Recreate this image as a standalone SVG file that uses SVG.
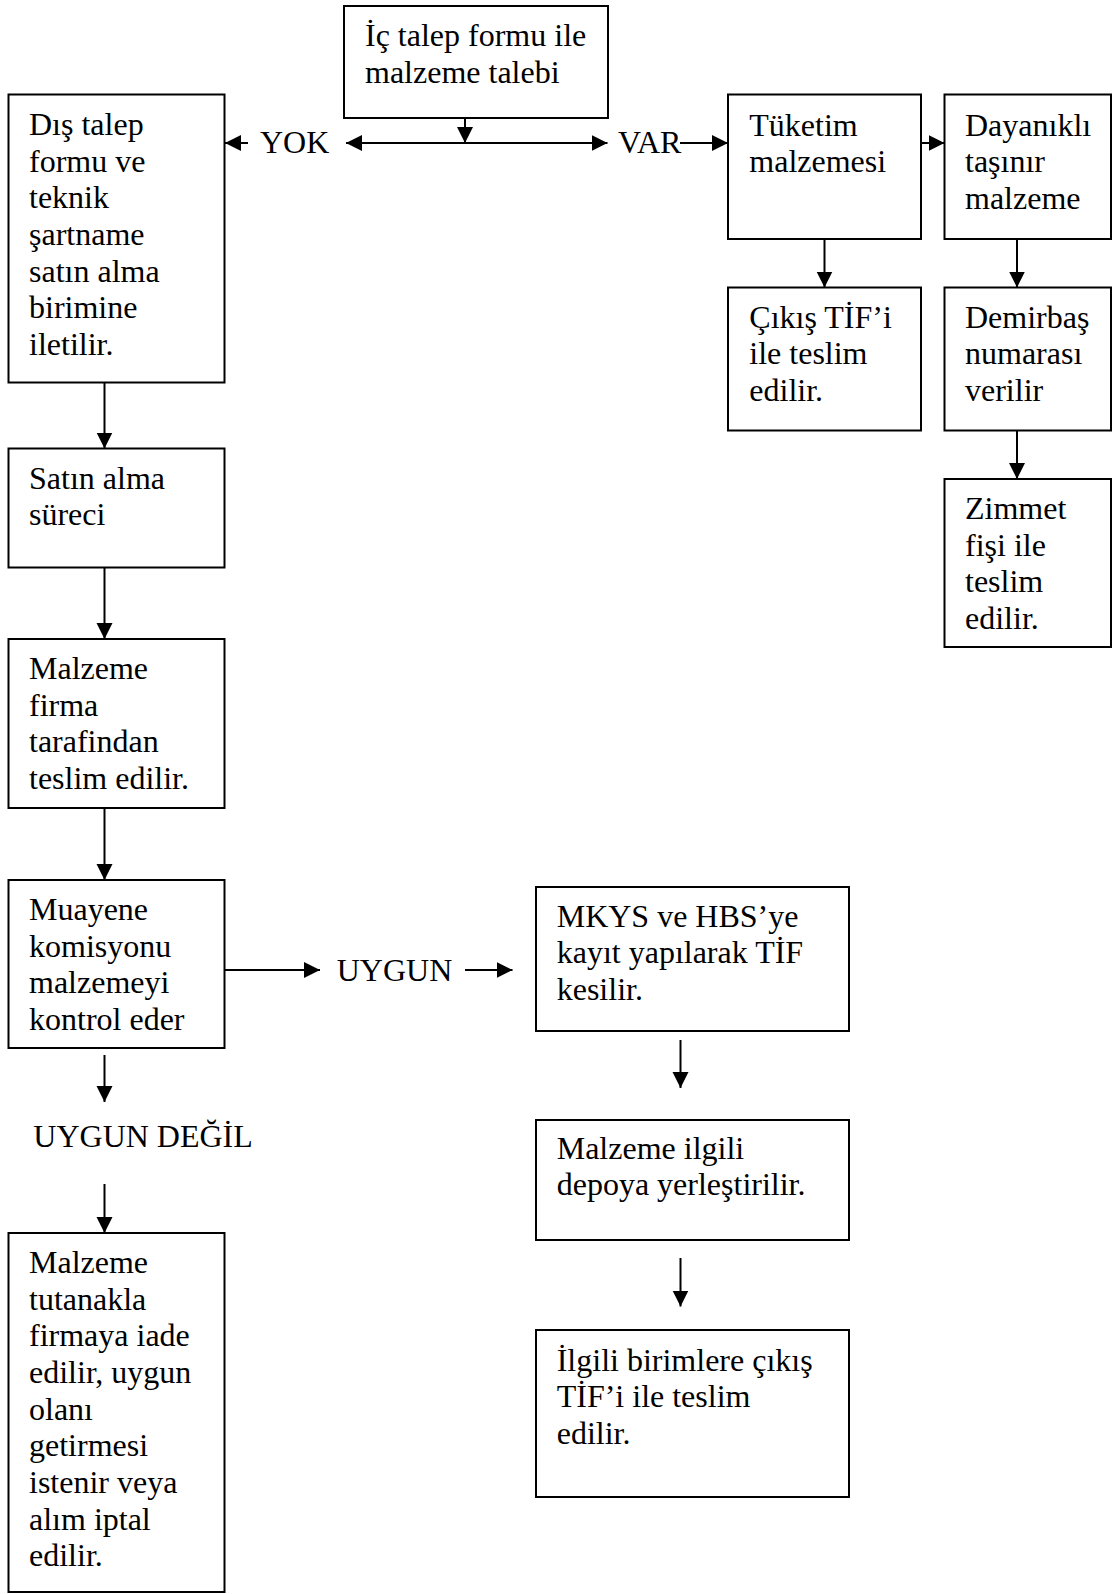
<svg xmlns="http://www.w3.org/2000/svg" width="1113" height="1594" viewBox="0 0 1113 1594">
<defs>
<marker id="ah" markerUnits="userSpaceOnUse" markerWidth="18" markerHeight="17" refX="16" refY="8" orient="auto">
<path d="M0,0 L16,8 L0,16 z" fill="#000"/>
</marker>
<marker id="ahs" markerUnits="userSpaceOnUse" markerWidth="18" markerHeight="17" refX="0" refY="8" orient="auto">
<path d="M16,0 L0,8 L16,16 z" fill="#000"/>
</marker>
<style>
.box{fill:#fff;stroke:#000;stroke-width:2}
.t{font-family:"Liberation Serif","Times New Roman",serif;font-size:32px;fill:#000}
.c{stroke:#000;stroke-width:2;fill:none}
.a{marker-end:url(#ah)}
</style>
</defs>
<rect width="1113" height="1594" fill="#fff"/>

<g id="connectors">
<line class="c a" x1="465" y1="118" x2="465" y2="143"/>
<line class="c a" x1="346" y1="143" x2="607.5" y2="143" style="marker-start:url(#ahs)"/>
<line class="c a" x1="248" y1="143" x2="225" y2="143"/>
<line class="c a" x1="680" y1="143" x2="728" y2="143"/>
<line class="c a" x1="921" y1="143" x2="944.5" y2="143"/>
<line class="c a" x1="824.5" y1="239" x2="824.5" y2="287.5"/>
<line class="c a" x1="1017" y1="239" x2="1017" y2="287.5"/>
<line class="c a" x1="1017" y1="430.5" x2="1017" y2="479"/>
<line class="c a" x1="104.5" y1="382.5" x2="104.5" y2="448.5"/>
<line class="c a" x1="104.5" y1="567.5" x2="104.5" y2="639"/>
<line class="c a" x1="104.5" y1="808" x2="104.5" y2="880"/>
<line class="c a" x1="224.5" y1="970" x2="320" y2="970"/>
<line class="c a" x1="465" y1="970" x2="512.5" y2="970"/>
<line class="c a" x1="104.5" y1="1055" x2="104.5" y2="1102"/>
<line class="c a" x1="104.5" y1="1184" x2="104.5" y2="1233"/>
<line class="c a" x1="680.5" y1="1040" x2="680.5" y2="1088"/>
<line class="c a" x1="680.5" y1="1258" x2="680.5" y2="1306.5"/>
</g>

<g id="labels">
<text class="t" x="260" y="152.7">YOK</text>
<text class="t" x="618" y="152.7">VAR</text>
<text class="t" x="336.7" y="980.7">UYGUN</text>
<text class="t" x="33.3" y="1147.3">UYGUN DEĞİL</text>
</g>

<g id="n-ic-talep">
<rect class="box" x="344" y="6" width="264" height="112"/>
<text class="t" x="365" y="46"><tspan x="365">İç talep formu ile</tspan><tspan x="365" dy="36.6">malzeme talebi</tspan></text>
</g>

<g id="n-dis-talep">
<rect class="box" x="8.5" y="94.5" width="216" height="288"/>
<text class="t" x="29" y="135"><tspan x="29">Dış talep</tspan><tspan x="29" dy="36.67">formu ve</tspan><tspan x="29" dy="36.67">teknik</tspan><tspan x="29" dy="36.67">şartname</tspan><tspan x="29" dy="36.67">satın alma</tspan><tspan x="29" dy="36.67">birimine</tspan><tspan x="29" dy="36.67">iletilir.</tspan></text>
</g>

<g id="n-tuketim">
<rect class="box" x="728" y="94.5" width="193" height="144.5"/>
<text class="t" x="749.3" y="135.5"><tspan x="749.3">Tüketim</tspan><tspan x="749.3" dy="36.67">malzemesi</tspan></text>
</g>

<g id="n-dayanikli">
<rect class="box" x="944.5" y="94.5" width="166.5" height="144.5"/>
<text class="t" x="965" y="135.5"><tspan x="965">Dayanıklı</tspan><tspan x="965" dy="36.67">taşınır</tspan><tspan x="965" dy="36.67">malzeme</tspan></text>
</g>

<g id="n-cikis">
<rect class="box" x="728" y="287.5" width="193" height="143"/>
<text class="t" x="749.3" y="327.5"><tspan x="749.3">Çıkış TİF’i</tspan><tspan x="749.3" dy="36.67">ile teslim</tspan><tspan x="749.3" dy="36.67">edilir.</tspan></text>
</g>

<g id="n-demirbas">
<rect class="box" x="944.5" y="287.5" width="166.5" height="143"/>
<text class="t" x="965" y="327.5"><tspan x="965">Demirbaş</tspan><tspan x="965" dy="36.67">numarası</tspan><tspan x="965" dy="36.67">verilir</tspan></text>
</g>

<g id="n-zimmet">
<rect class="box" x="944.5" y="479" width="166.5" height="168"/>
<text class="t" x="965" y="519"><tspan x="965">Zimmet</tspan><tspan x="965" dy="36.67">fişi ile</tspan><tspan x="965" dy="36.67">teslim</tspan><tspan x="965" dy="36.67">edilir.</tspan></text>
</g>

<g id="n-satin-alma">
<rect class="box" x="8.5" y="448.5" width="216" height="119"/>
<text class="t" x="29" y="488.5"><tspan x="29">Satın alma</tspan><tspan x="29" dy="36.67">süreci</tspan></text>
</g>

<g id="n-malzeme-firma">
<rect class="box" x="8.5" y="639" width="216" height="169"/>
<text class="t" x="29" y="679"><tspan x="29">Malzeme</tspan><tspan x="29" dy="36.67">firma</tspan><tspan x="29" dy="36.67">tarafindan</tspan><tspan x="29" dy="36.67">teslim edilir.</tspan></text>
</g>

<g id="n-muayene">
<rect class="box" x="8.5" y="880" width="216" height="168"/>
<text class="t" x="29" y="920"><tspan x="29">Muayene</tspan><tspan x="29" dy="36.67">komisyonu</tspan><tspan x="29" dy="36.67">malzemeyi</tspan><tspan x="29" dy="36.67">kontrol eder</tspan></text>
</g>

<g id="n-iade">
<rect class="box" x="8.5" y="1233" width="216" height="359"/>
<text class="t" x="29" y="1273"><tspan x="29">Malzeme</tspan><tspan x="29" dy="36.67">tutanakla</tspan><tspan x="29" dy="36.67">firmaya iade</tspan><tspan x="29" dy="36.67">edilir, uygun</tspan><tspan x="29" dy="36.67">olanı</tspan><tspan x="29" dy="36.67">getirmesi</tspan><tspan x="29" dy="36.67">istenir veya</tspan><tspan x="29" dy="36.67">alım iptal</tspan><tspan x="29" dy="36.67">edilir.</tspan></text>
</g>

<g id="n-mkys">
<rect class="box" x="536" y="887" width="313" height="144"/>
<text class="t" x="556.7" y="926.5"><tspan x="556.7">MKYS ve HBS’ye</tspan><tspan x="556.7" dy="36.67">kayıt yapılarak TİF</tspan><tspan x="556.7" dy="36.67">kesilir.</tspan></text>
</g>

<g id="n-depo">
<rect class="box" x="536" y="1120" width="313" height="120"/>
<text class="t" x="556.7" y="1158.5"><tspan x="556.7">Malzeme ilgili</tspan><tspan x="556.7" dy="36.67">depoya yerleştirilir.</tspan></text>
</g>

<g id="n-ilgili">
<rect class="box" x="536" y="1330" width="313" height="167"/>
<text class="t" x="556.7" y="1370.5"><tspan x="556.7">İlgili birimlere çıkış</tspan><tspan x="556.7" dy="36.67">TİF’i ile teslim</tspan><tspan x="556.7" dy="36.67">edilir.</tspan></text>
</g>
</svg>
